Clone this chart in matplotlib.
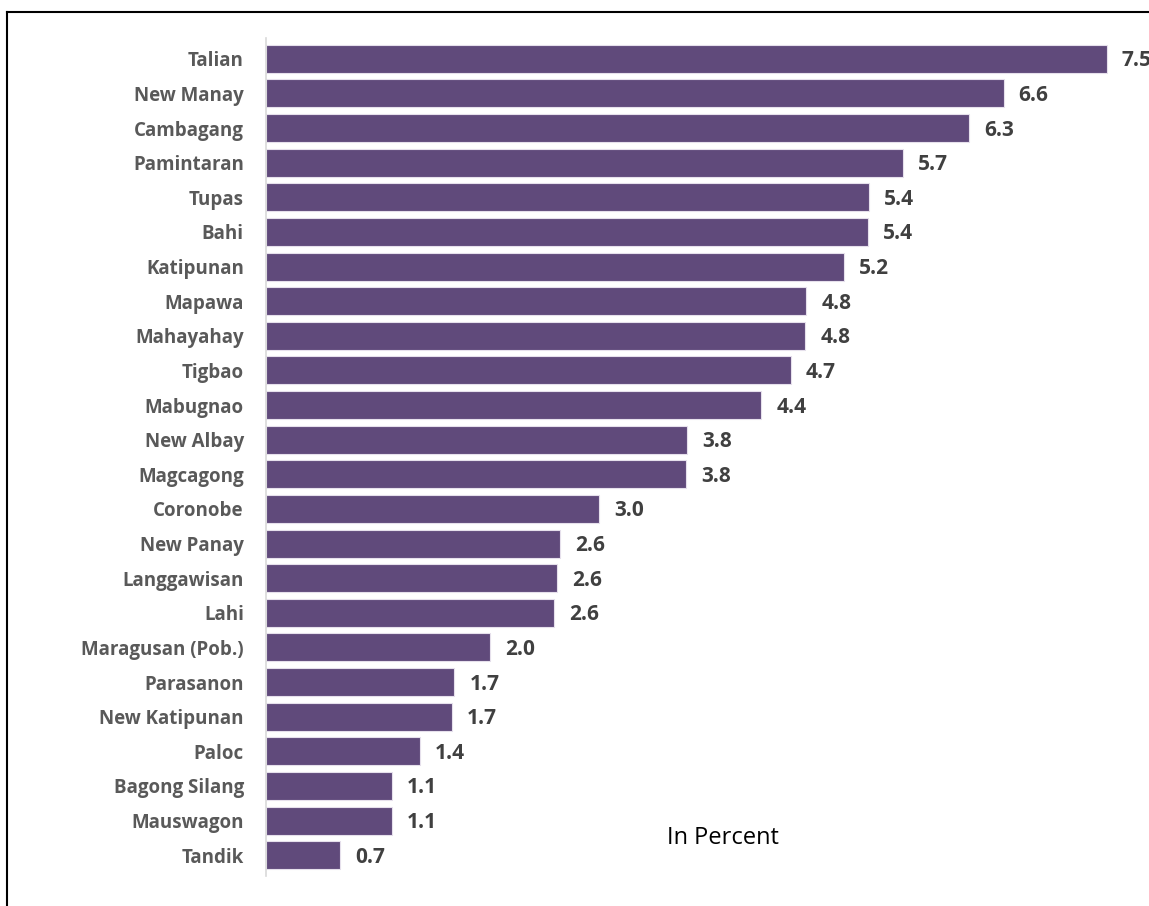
import matplotlib.pyplot as plt
from matplotlib.lines import Line2D

barangays = ["Talian", "New Manay", "Cambagang", "Pamintaran", "Tupas", "Bahi",
             "Katipunan", "Mapawa", "Mahayahay", "Tigbao", "Mabugnao", "New Albay",
             "Magcagong", "Coronobe", "New Panay", "Langgawisan", "Lahi",
             "Maragusan (Pob.)", "Parasanon", "New Katipunan", "Paloc",
             "Bagong Silang", "Mauswagon", "Tandik"]
percent = [7.5, 6.58, 6.27, 5.68, 5.38, 5.37, 5.16, 4.82, 4.81, 4.68, 4.42, 3.76,
           3.75, 2.97, 2.62, 2.6, 2.57, 2.0, 1.68, 1.66, 1.37, 1.12, 1.12, 0.66]

plt.rcParams['font.family'] = ['Open Sans', 'DejaVu Sans']

W, H = 1149, 906
fig = plt.figure(figsize=(W / 100, H / 100), dpi=100)
ax = fig.add_axes([266 / W, 1 - 876 / H, 1 - 266 / W, (876 - 38) / H])

y = list(range(len(barangays)))
ax.barh(y, percent, height=0.81, color='#604A7B', edgecolor='#E6E0EC', linewidth=0.8)
ax.set_ylim(len(barangays) - 0.4, -0.6)
ax.set_xlim(0, (W - 266) / 112.1)

for i, v in enumerate(percent):
    ax.annotate(f"{v:.1f}", (v, i), xytext=(15, -2), textcoords='offset pixels',
                va='center', ha='left', fontsize=15, fontweight='bold', color='#404040')

ax.set_yticks(y)
ax.set_yticklabels(barangays, fontsize=13.5, fontweight='bold', color='#595959')
ax.tick_params(axis='y', length=0, pad=16)
ax.set_xticks([])
for s in ['top', 'right', 'bottom']:
    ax.spines[s].set_visible(False)
ax.spines['left'].set_color('#D9D9D9')
ax.spines['left'].set_linewidth(1.2)

fig.text(723 / W, 1 - 838 / H, "In Percent", ha='center', va='center', fontsize=17, color='black')

# outer frame (only top and left visible)
fig.add_artist(Line2D([6.5 / W, 6.5 / W], [0, 1 - 12 / H], color='black', lw=1.5, transform=fig.transFigure))
fig.add_artist(Line2D([6.5 / W, 1], [1 - 12 / H, 1 - 12 / H], color='black', lw=1.5, transform=fig.transFigure))

fig.savefig("out.png", dpi=100)
